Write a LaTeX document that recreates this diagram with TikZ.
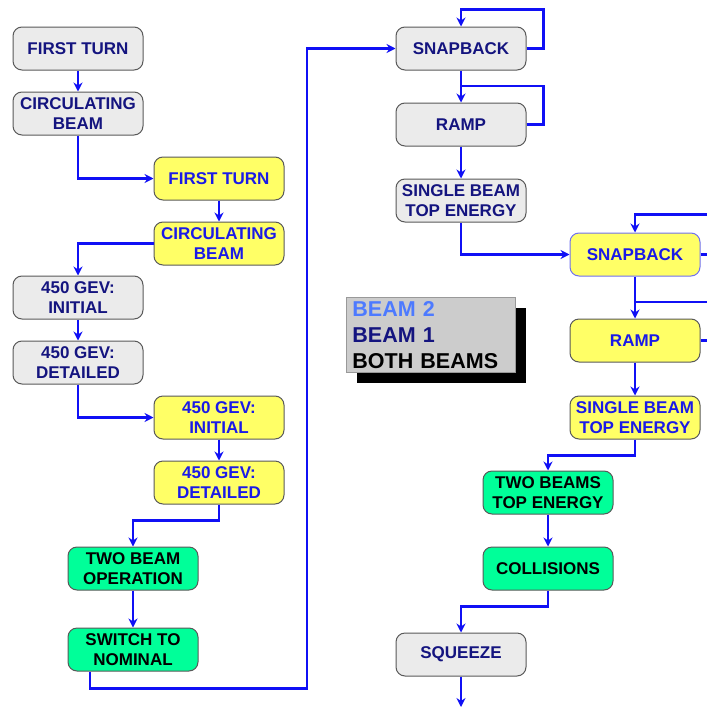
\documentclass[tikz,border=0pt]{standalone}
\usepackage{fontspec}
\setmainfont{Liberation Sans}
\usepackage{tikz}
\usetikzlibrary{arrows.meta,shadows}
\definecolor{boxgrey}{HTML}{EBEBEB}
\definecolor{boxyellow}{HTML}{FFFF66}
\definecolor{boxgreen}{HTML}{00FF99}
\definecolor{navytext}{HTML}{14147F}
\definecolor{bluetext}{HTML}{1A1AE8}
\definecolor{flowblue}{HTML}{1010F5}
\definecolor{snapedge}{HTML}{7070F0}
\definecolor{keygrey}{HTML}{CCCCCC}
\definecolor{keyblue}{HTML}{4D7AFF}
\tikzset{
  stage/.style={rectangle,rounded corners=9pt,minimum width=130pt,minimum height=43pt,
    inner sep=0pt,align=center,draw=black!65,line width=1pt,
    font=\fontsize{17}{20}\selectfont\bfseries},
  beamone/.style={stage,fill=boxgrey,text=navytext},
  beamtwo/.style={stage,fill=boxyellow,text=bluetext},
  bothbeams/.style={stage,fill=boxgreen,text=black},
  flow/.style={draw=flowblue,line width=2.5pt,-{Stealth[length=9pt,width=9pt]}},
  feedback/.style={draw=flowblue,line width=2.5pt}
}
\begin{document}
\begin{tikzpicture}[x=1pt,y=-1pt]
  \useasboundingbox (0,0) rectangle (707,707);
  % beam 1 / beam 2 injection side
  \node[beamone] (ft1) at (78,48.5) {FIRST TURN};
  \node[beamone] (cb1) at (78,113.5) {CIRCULATING\\BEAM};
  \node[beamtwo] (ft2) at (219,178.5) {FIRST TURN};
  \node[beamtwo] (cb2) at (219,243.5) {CIRCULATING\\BEAM};
  \node[beamone] (ini1) at (78,297.5) {450 GEV:\\INITIAL};
  \node[beamone] (det1) at (78,362.5) {450 GEV:\\DETAILED};
  \node[beamtwo] (ini2) at (219,417.5) {450 GEV:\\INITIAL};
  \node[beamtwo] (det2) at (219,482.5) {450 GEV:\\DETAILED};
  \node[bothbeams] (twob) at (133,568.5) {TWO BEAM\\OPERATION};
  \node[bothbeams] (nom) at (133,649.5) {SWITCH TO\\NOMINAL};
  % ramp side
  \node[beamone] (snap1) at (461,48.5) {SNAPBACK};
  \node[beamone] (ramp1) at (461,124.5) {RAMP};
  \node[beamone] (top1) at (461,200.5) {SINGLE BEAM\\TOP ENERGY};
  \node[beamtwo,draw=snapedge] (snap2) at (635,254.5) {SNAPBACK};
  \node[beamtwo] (ramp2) at (635,340.5) {RAMP};
  \node[beamtwo] (top2) at (635,417.5) {SINGLE BEAM\\TOP ENERGY};
  \node[bothbeams] (tope) at (548,492.5) {TWO BEAMS\\TOP ENERGY};
  \node[bothbeams] (coll) at (548,568.5) {COLLISIONS};
  \node[beamone] (sq) at (461,654.5) {SQUEEZE};
  \coordinate (exit) at (461,707);
  % key
  \node[anchor=north west,fill=keygrey,draw=black!40,line width=0.8pt,
    drop shadow={shadow xshift=11pt,shadow yshift=-11pt,fill=black,opacity=1},
    text width=157pt,inner xsep=6pt,inner ysep=3.8pt,align=left,
    font=\fontsize{21.5}{26}\selectfont\bfseries] (key) at (346,297)
    {\textcolor{keyblue}{BEAM 2}\\\textcolor{navytext}{BEAM 1}\\BOTH BEAMS};
  % connectors
  \draw[flow] (ft1) -- (cb1);
  \draw[flow] (cb1) |- (ft2);
  \draw[flow] (ft2) -- (cb2);
  \draw[flow] (cb2) -| (ini1);
  \draw[flow] (ini1) -- (det1);
  \draw[flow] (det1) |- (ini2);
  \draw[flow] (ini2) -- (det2);
  \draw[flow] (det2.south) -- ++(0,16) -| (twob.north);
  \draw[flow] (twob) -- (nom);
  \draw[flow] ([xshift=-43pt]nom.south) -- ++(0,17) -| (307,48.5) -- (snap1.west);
  \draw[flow] (snap1.east) -- ++(17,0) |- ([yshift=17pt]snap1.north) -- (snap1.north);
  \draw[flow] (snap1) -- (ramp1);
  \draw[feedback] (ramp1.east) -- ++(17,0) |- (461,86);
  \draw[flow] (ramp1) -- (top1);
  \draw[flow] (top1) |- (snap2);
  \draw[flow] (snap2.east) -- ++(20,0) |- ([yshift=18pt]snap2.north) -- (snap2.north);
  \draw[flow] (snap2) -- (ramp2);
  \draw[feedback] (ramp2.east) -- ++(20,0) |- (635,302);
  \draw[flow] (ramp2) -- (top2);
  \draw[flow] (top2.south) -- ++(0,16) -| (tope.north);
  \draw[flow] (tope) -- (coll);
  \draw[flow] (coll.south) -- ++(0,16) -| (sq.north);
  \draw[flow] (sq) -- (exit);
\end{tikzpicture}
\end{document}
